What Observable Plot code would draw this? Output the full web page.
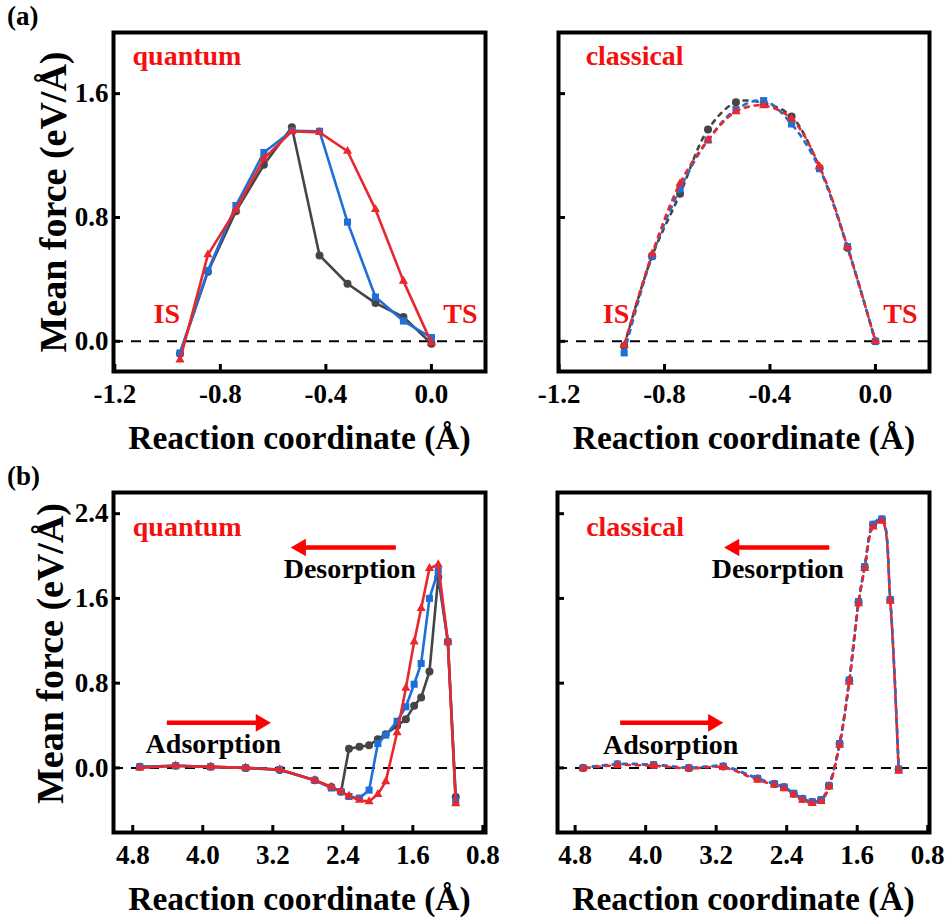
<!DOCTYPE html>
<html><head><meta charset="utf-8">
<script src="https://cdn.jsdelivr.net/npm/d3@7"></script>
<script src="https://cdn.jsdelivr.net/npm/@observablehq/plot@0.6"></script>
<style>
body{margin:0;background:#fff;}
#wrap{position:relative;width:948px;height:920px;font-family:"Liberation Serif","Times New Roman",serif;}
.panel{position:absolute;}
.tag{position:absolute;font-weight:bold;font-size:27px;line-height:30px;color:#000;}
</style></head><body>
<div id="wrap">
  <div class="tag" style="left:7px;top:1px;">(a)</div>
  <div class="tag" style="left:7px;top:461px;">(b)</div>
</div>
<script>
// ---------- data ----------
// (a) reaction coordinate grid (Å)
const xA = [-0.953, -0.847, -0.741, -0.635, -0.529, -0.424, -0.318, -0.212, -0.106, 0.0];
// (a) quantum
const aqBlack = [-0.08, 0.45, 0.84, 1.14, 1.383, 0.555, 0.372, 0.247, 0.157, -0.015];
const aqBlue  = [-0.075, 0.458, 0.877, 1.22, 1.36, 1.357, 0.77, 0.286, 0.131, 0.024];
const aqRed   = [-0.12, 0.56, 0.85, 1.18, 1.357, 1.35, 1.228, 0.852, 0.389, -0.01];
// (a) classical
const acBlack = [-0.03, 0.55, 0.953, 1.368, 1.544, 1.54, 1.452, 1.12, 0.605, 0.0];
const acBlue  = [-0.075, 0.55, 0.985, 1.30, 1.497, 1.555, 1.404, 1.115, 0.612, 0.0];
const acRed   = [-0.026, 0.565, 1.02, 1.30, 1.484, 1.523, 1.437, 1.129, 0.608, 0.0];
// (b) quantum
const xBQ = [4.72, 4.31, 3.91, 3.51, 3.12, 2.72, 2.53, 2.42, 2.33, 2.21, 2.10, 2.00, 1.91, 1.78, 1.68, 1.585, 1.505, 1.41, 1.31, 1.20, 1.11];
const bqBlack = [0.01, 0.02, 0.01, 0.0, -0.02, -0.117, -0.18, -0.225, 0.18, 0.2, 0.214, 0.27, 0.318, 0.397, 0.46, 0.586, 0.665, 0.91, 1.80, 1.19, -0.274];
const bqBlue  = [0.01, 0.02, 0.01, 0.0, -0.015, -0.117, -0.19, -0.225, -0.27, -0.285, -0.21, 0.23, 0.31, 0.44, 0.577, 0.79, 0.986, 1.60, 1.862, 1.19, -0.31];
const bqRed   = [0.0, 0.02, 0.01, 0.0, -0.015, -0.117, -0.18, -0.225, -0.265, -0.305, -0.318, -0.25, -0.13, 0.334, 0.753, 1.19, 1.506, 1.884, 1.92, 1.19, -0.337];
// (b) classical
const xBC = [4.71, 4.32, 3.91, 3.51, 3.12, 2.73, 2.54, 2.43, 2.32, 2.22, 2.11, 2.01, 1.92, 1.80, 1.69, 1.585, 1.515, 1.42, 1.32, 1.225, 1.13];
const bcBlack = [0.0, 0.035, 0.028, 0.0, 0.012, -0.1, -0.152, -0.182, -0.245, -0.292, -0.322, -0.302, -0.168, 0.228, 0.826, 1.565, 1.897, 2.295, 2.345, 1.588, -0.015];
const bcBlue  = [0.0, 0.035, 0.03, 0.0, 0.015, -0.1, -0.15, -0.18, -0.24, -0.29, -0.32, -0.3, -0.165, 0.23, 0.83, 1.57, 1.9, 2.30, 2.35, 1.59, -0.01];
const bcRed   = [-0.005, 0.025, 0.02, -0.005, 0.005, -0.115, -0.16, -0.195, -0.255, -0.305, -0.335, -0.315, -0.18, 0.215, 0.81, 1.55, 1.885, 2.275, 2.33, 1.575, -0.03];
// ticks
const xTicksA = [-1.2, -0.8, -0.4, 0.0];
const yTicksA = [0.0, 0.8, 1.6];
const xTicksB = [4.8, 4.0, 3.2, 2.4, 1.6, 0.8];
const yTicksB = [0.0, 0.8, 1.6, 2.4];
// texts
const xTitle = "Reaction coordinate (Å)";
const yTitle = "Mean force (eV/Å)";

// ---------- styles ----------
const FONT = "Liberation Serif, Times New Roman, serif";
const RED = "#e8282c", BLUE = "#1f6fd9", GRAY = "#454545", ARROW = "#ff0000", LABELRED = "#f50f0f";
const specs = [
  {color: GRAY, symbol: "circle", r: 4, dash: "4,6", off: 0},
  {color: BLUE, symbol: "square", r: 4, dash: "4,6", off: 0},
  {color: RED, symbol: "triangle", r: 3.4, dash: "4,6", off: 7}
];

function panel(o) {
  const marks = [Plot.ruleY([0], {stroke: "#000", strokeWidth: 2, strokeDasharray: "10,8"})];
  specs.forEach((s, i) => {
    const rows = o.xs.map((x, j) => ({x, y: o.ys[i][j]}));
    const lineOpts = {x: "x", y: "y", stroke: s.color, strokeWidth: 2.6, curve: o.dashed ? "catmull-rom" : "linear"};
    if (o.dashed) { lineOpts.strokeDasharray = s.dash; lineOpts.strokeDashoffset = s.off; }
    marks.push(Plot.line(rows, lineOpts));
    marks.push(Plot.dot(rows, {x: "x", y: "y", symbol: s.symbol, r: s.r, fill: s.color, stroke: "none"}));
  });
  (o.arrows || []).forEach(a => {
    marks.push(Plot.link([a], {x1: "x1", x2: "x2", y1: "y", y2: "y", stroke: ARROW, strokeWidth: 4.5}));
    marks.push(Plot.dot([a], {x: "x2", y: "y", symbol: "triangle", r: 6.5, fill: ARROW, stroke: "none",
      rotate: a.dir === "left" ? -90 : 90, dx: a.dir === "left" ? 5 : -5}));
  });
  marks.push(Plot.text(o.redTexts, {x: "x", y: "y", text: "t", textAnchor: "start", lineAnchor: "middle",
    fill: LABELRED, fontSize: 28, fontWeight: "bold", fontFamily: FONT}));
  if (o.blackTexts) marks.push(Plot.text(o.blackTexts, {x: "x", y: "y", text: "t", textAnchor: "middle", lineAnchor: "middle",
    fill: "#000", fontSize: 28, fontWeight: "bold", fontFamily: FONT}));
  marks.push(Plot.frame({stroke: "#000", strokeWidth: 4}));
  marks.push(Plot.axisX({ticks: o.xTicks, tickSize: -7, tickPadding: 19, strokeWidth: 3, label: null,
    tickFormat: d => d.toFixed(1), fontSize: 27, fontWeight: "bold", fontFamily: FONT}));
  marks.push(Plot.axisY({ticks: o.yTicks, tickSize: -7, tickPadding: 12, strokeWidth: 3, label: null,
    tickFormat: o.yLabels ? (d => d.toFixed(1)) : (() => ""), fontSize: 27, fontWeight: "bold", fontFamily: FONT}));
  marks.push(Plot.text([xTitle], {frameAnchor: "bottom", dy: 77, lineAnchor: "bottom", textAnchor: "middle", text: d => d,
    fontSize: 33.5, fontWeight: "bold", fontFamily: FONT, fill: "#000"}));
  if (o.yLabels) marks.push(Plot.text([yTitle], {frameAnchor: "left", rotate: -90, dx: o.yTitleDx, dy: o.yTitleDy,
    lineAnchor: "middle", textAnchor: "middle", text: d => d,
    fontSize: 38, fontWeight: "bold", fontFamily: FONT, fill: "#000"}));
  const svg = Plot.plot({
    width: o.w, height: o.h,
    marginTop: o.m[0], marginRight: o.m[1], marginBottom: o.m[2], marginLeft: o.m[3],
    x: {domain: o.xDomain, label: null},
    y: {domain: o.yDomain, label: null},
    style: {background: "transparent", fontFamily: FONT, fontWeight: "bold", color: "#000", overflow: "visible"},
    marks
  });
  svg.classList.add("panel");
  svg.style.left = o.left + "px";
  svg.style.top = o.top + "px";
  svg.style.position = "absolute";
  document.getElementById("wrap").appendChild(svg);
}

panel({
  left: 0, top: 0, w: 490, h: 460, m: [32, 5, 89, 113],
  xs: xA, ys: [aqBlack, aqBlue, aqRed], dashed: false,
  xDomain: [-1.205, 0.205], yDomain: [-0.195, 1.995], xTicks: xTicksA, yTicks: yTicksA, yLabels: true,
  yTitleDx: -60, yTitleDy: 0,
  redTexts: [{t: "quantum", x: -1.133, y: 1.845}, {t: "IS", x: -1.053, y: 0.174}, {t: "TS", x: 0.045, y: 0.174}]
});
panel({
  left: 490, top: 0, w: 458, h: 460, m: [32, 19, 89, 68],
  xs: xA, ys: [acBlack, acBlue, acRed], dashed: true,
  xDomain: [-1.202, 0.205], yDomain: [-0.195, 1.995], xTicks: xTicksA, yTicks: yTicksA, yLabels: false,
  redTexts: [{t: "classical", x: -1.099, y: 1.845}, {t: "IS", x: -1.034, y: 0.174}, {t: "TS", x: 0.03, y: 0.174}]
});
panel({
  left: 0, top: 460, w: 490, h: 460, m: [32, 5, 88, 113],
  xs: xBQ, ys: [bqBlack, bqBlue, bqRed], dashed: false,
  xDomain: [5.02, 0.77], yDomain: [-0.61, 2.6], xTicks: xTicksB, yTicks: yTicksB, yLabels: true,
  yTitleDx: -63, yTitleDy: -9,
  redTexts: [{t: "quantum", x: 4.8, y: 2.278}],
  blackTexts: [{t: "Desorption", x: 2.32, y: 1.88}, {t: "Adsorption", x: 3.88, y: 0.227}],
  arrows: [{x1: 1.794, x2: 2.937, y: 2.08, dir: "left"}, {x1: 4.411, x2: 3.28, y: 0.425, dir: "right"}]
});
panel({
  left: 490, top: 460, w: 458, h: 460, m: [32, 19, 88, 67],
  xs: xBC, ys: [bcBlack, bcBlue, bcRed], dashed: true,
  xDomain: [5.0, 0.78], yDomain: [-0.61, 2.6], xTicks: xTicksB, yTicks: yTicksB, yLabels: false,
  redTexts: [{t: "classical", x: 4.675, y: 2.278}],
  blackTexts: [{t: "Desorption", x: 2.501, y: 1.88}, {t: "Adsorption", x: 3.716, y: 0.217}],
  arrows: [{x1: 1.917, x2: 3.052, y: 2.08, dir: "left"}, {x1: 4.289, x2: 3.177, y: 0.425, dir: "right"}]
});
</script>
</body></html>
